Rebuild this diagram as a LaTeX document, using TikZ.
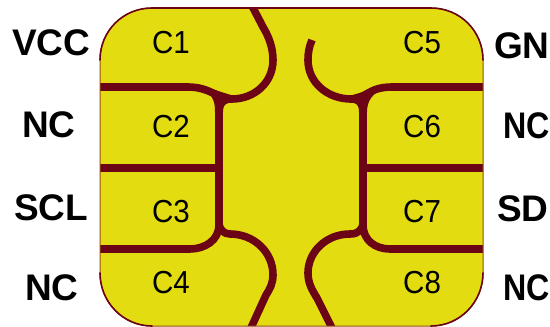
\documentclass[tikz,border=0pt]{standalone}
\usepackage{fontspec}
\setmainfont{Liberation Sans}
\definecolor{chipyellow}{HTML}{E3DC10}
\definecolor{chiptrace}{HTML}{6B0516}
\tikzset{
  trace/.style={draw=chiptrace,line width=7.6pt,line join=round},
  edgeline/.style={draw=chiptrace,line width=1.6pt,line cap=round},
  contactlabel/.style={anchor=base west,inner sep=0pt,yscale=1.08,font=\fontsize{29.5}{29.5}\selectfont,text=black},
  pinlabel/.style={anchor=base west,inner sep=0pt,font=\fontsize{37}{37}\selectfont\bfseries,text=black}
}
\begin{document}
\begin{tikzpicture}[x=1pt,y=-1pt]
\useasboundingbox (0,0) rectangle (550,327);
\fill[white] (0,0) rectangle (550,327);
\def\chipoutline{(152,8) -- (431,8) .. controls (460,8) and (483,31) .. (483,60) -- (483,273) .. controls (483,302) and (460,326) .. (431,326) -- (152,326) .. controls (123,326) and (100,302) .. (100,273) -- (100,60) .. controls (100,31) and (123,8) .. (152,8) -- cycle}
\fill[chipyellow] \chipoutline;
\begin{scope}
\clip \chipoutline;
% upper left
\draw[trace] (250,2) -- (263,27) .. controls (269,37) and (273,48) .. (273,60) .. controls (273,83) and (254,99) .. (232,99) .. controls (218,99) and (210,87) .. (188,87) -- (96,87);
\draw[trace] (219,228) -- (219,110) .. controls (219,103) and (223,99) .. (232,99);
\fill[chiptrace] (205,91) .. controls (214,96) and (215,104) .. (215,112) -- (223,112) .. controls (223,104) and (226,102) .. (234,102) -- (234,96) -- (215,90) -- cycle;
\draw[trace] (96,168) -- (219,168);
% lower left
\draw[trace] (96,249) -- (190,249) .. controls (205,249) and (219,240) .. (219,225);
\draw[trace] (219,222) .. controls (219,230) and (224,234) .. (230,234) .. controls (254,234) and (273,252) .. (273,275) .. controls (273,283) and (270,289) .. (266,295) -- (250,330);
% upper right
\draw[trace,line cap=butt] (312,40) .. controls (309,47) and (308,53) .. (308,60) .. controls (308,83) and (328,99) .. (351,99) .. controls (366,99) and (368,87) .. (392,87) -- (487,87);
\draw[trace] (363,228) -- (363,110) .. controls (363,103) and (359,99) .. (351,99);
\fill[chiptrace] (379,91) .. controls (370,96) and (367,104) .. (367,112) -- (359,112) .. controls (359,104) and (356,102) .. (349,102) -- (349,96) -- (370,90) -- cycle;
\draw[trace] (363,168) -- (487,168);
% lower right
\draw[trace] (487,249) -- (390,249) .. controls (375,249) and (363,240) .. (363,225);
\draw[trace] (363,222) .. controls (363,230) and (358,234) .. (350,234) .. controls (326,234) and (308,252) .. (308,273) .. controls (308,283) and (312,290) .. (317,298) -- (333,330);
\end{scope}
\draw[chiptrace!65!chipyellow,line width=1pt] \chipoutline;
\draw[edgeline] (100,60) .. controls (100,31) and (123,8) .. (152,8) -- (431,8) .. controls (460,8) and (483,31) .. (483,60);
\draw[edgeline] (100,273) .. controls (100,302) and (123,326) .. (152,326);
\draw[edgeline] (483,273) .. controls (483,302) and (460,326) .. (431,326);
\node[contactlabel] (c1) at (152,53) {C1};
\node[contactlabel] (c2) at (152,137) {C2};
\node[contactlabel] (c3) at (152,222) {C3};
\node[contactlabel] (c4) at (152,293) {C4};
\node[contactlabel] (c5) at (403,53) {C5};
\node[contactlabel] (c6) at (403,137) {C6};
\node[contactlabel] (c7) at (403,222) {C7};
\node[contactlabel] (c8) at (403,293) {C8};
\node[pinlabel] (p1) at (12,55) {VCC};
\node[pinlabel] (p2) at (22,137) {NC};
\node[pinlabel] (p3) at (14,220) {SCL};
\node[pinlabel] (p4) at (25,300) {NC};
\node[pinlabel] (p5) at (494,58) {GN};
\node[pinlabel,xscale=.87] (p6) at (503,138) {NC};
\node[pinlabel] (p7) at (497,221) {SD};
\node[pinlabel,xscale=.87] (p8) at (503,300) {NC};
\end{tikzpicture}
\end{document}
